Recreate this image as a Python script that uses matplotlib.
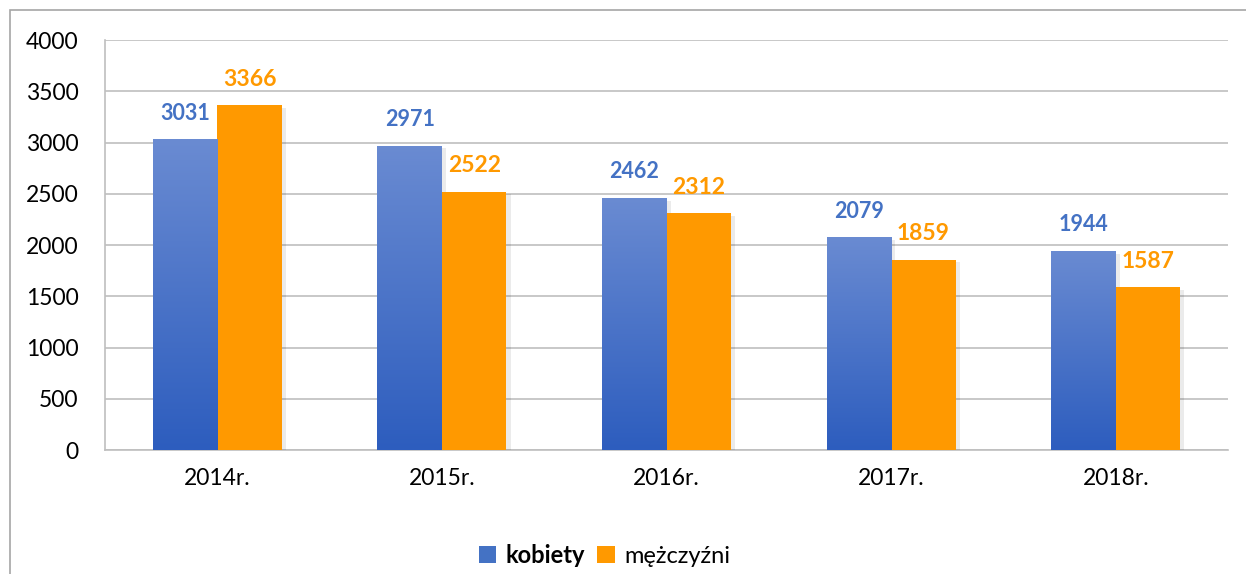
import numpy as np
import matplotlib.pyplot as plt
from matplotlib.patches import Rectangle, Patch
from matplotlib.colors import LinearSegmentedColormap
import matplotlib.patheffects as pe

plt.rcParams['font.family'] = ['Lato', 'DejaVu Sans']

# Data
years = ['2014r.', '2015r.', '2016r.', '2017r.', '2018r.']
kobiety = [3031, 2971, 2462, 2079, 1944]
mezczyzni = [3366, 2522, 2312, 1859, 1587]

blue_top = '#6A8BD2'
blue_bottom = '#2D5DBE'
blue_label = '#4472C4'
orange = '#FF9900'

fig = plt.figure(figsize=(12.46, 5.74), dpi=100)
ax = fig.add_axes([0.0843, 0.216, 0.9013, 0.714])

# outer chart frame (cut by the image edge)
fig.patches.append(Rectangle((10 / 1246, -0.1), 1.2, 1 - 10 / 574 + 0.1,
                             transform=fig.transFigure, fill=False,
                             edgecolor='#A6A6A6', linewidth=1.2, zorder=0))

x = np.arange(len(years))
w = 0.287
shadow = [pe.SimplePatchShadow(offset=(3, -2), shadow_rgbFace='#000000', alpha=0.08), pe.Normal()]

grad = LinearSegmentedColormap.from_list('bl', [blue_bottom, blue_top])
gimg = np.linspace(0, 1, 256).reshape(-1, 1)

b1 = ax.bar(x - w / 2, kobiety, w, color=blue_bottom, zorder=3, path_effects=shadow)
b2 = ax.bar(x + w / 2, mezczyzni, w, color=orange, zorder=3, path_effects=shadow)

# gradient fill for the blue bars
for r in b1:
    x0, h = r.get_x(), r.get_height()
    im = ax.imshow(gimg, cmap=grad, origin='lower', aspect='auto',
                   extent=(x0, x0 + r.get_width(), 0, h), zorder=3.5)
    im.set_clip_path(r)

for xi, v in zip(x, kobiety):
    ax.text(xi - w / 2, v + 150, str(v), ha='center', va='bottom',
            color=blue_label, fontsize=15.5, fontweight='bold')
for xi, v in zip(x, mezczyzni):
    ax.text(xi + w / 2, v + 150, str(v), ha='center', va='bottom',
            color=orange, fontsize=16.5, fontweight='bold')

ax.set_xlim(-0.5, len(years) - 0.5)
ax.set_ylim(0, 4000)
ax.set_yticks(range(0, 4001, 500))
ax.set_xticks(x)
ax.set_xticklabels(years)
ax.tick_params(axis='both', length=0, labelsize=16.5, colors='#000000')
ax.tick_params(axis='y', pad=19)
ax.tick_params(axis='x', pad=13)
ax.yaxis.grid(True, color='#BFBFBF', linewidth=1.2, zorder=0)
ax.set_axisbelow(True)
for s in ['top', 'right']:
    ax.spines[s].set_visible(False)
ax.spines['left'].set_color('#BFBFBF')
ax.spines['bottom'].set_color('#BFBFBF')
ax.spines['left'].set_linewidth(1.2)
ax.spines['bottom'].set_linewidth(1.2)

handles = [Patch(facecolor=blue_label, label='kobiety'),
           Patch(facecolor=orange, label='mężczyźni')]
leg = fig.legend(handles=handles, loc='center', bbox_to_anchor=(0.485, 0.033),
                 ncol=2, frameon=False, fontsize=17, handlelength=0.75,
                 handleheight=0.75, handletextpad=0.4, columnspacing=0.5)
leg.get_texts()[0].set_fontweight('bold')

fig.savefig('out.png', dpi=100)
